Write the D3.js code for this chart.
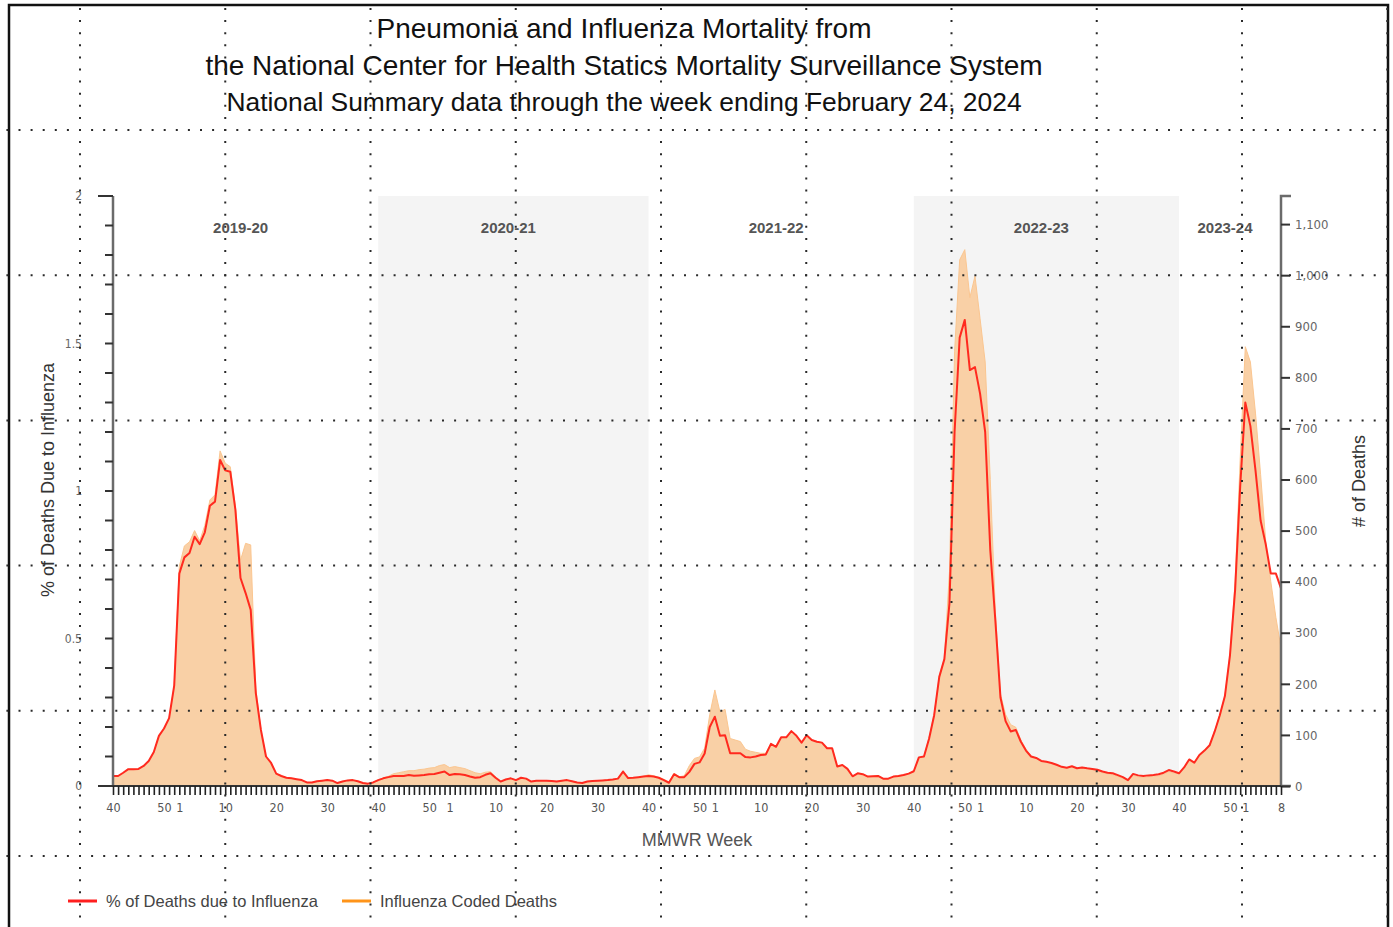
<!DOCTYPE html>
<html><head><meta charset="utf-8">
<script src="https://cdn.jsdelivr.net/npm/d3@7"></script>
<style>
body{margin:0;background:#fff;}
svg{display:block;font-family:"Liberation Sans",Arial,sans-serif;}
</style>
</head><body>
<svg id="chart" width="1393" height="927"></svg>
<script>
// ---------- DATA ----------
const titleLines = [
  "Pneumonia and Influenza Mortality from",
  "the National Center for Health Statics Mortality Surveillance System",
  "National Summary data through the week ending February 24, 2024"
];
const seasonNames = ["2019-20", "2020-21", "2021-22", "2022-23", "2023-24"];
const mmwrYears = [2019, 2020, 2021, 2022, 2023, 2024];
const weeksInYear = [52, 53, 52, 52, 52, 52];
const firstWeek = {year: 2019, week: 40};
const lastWeek = {year: 2024, week: 8};
const xLabelWeeks = [1, 10, 20, 30, 40, 50];
const leftTicks = [0, 0.5, 1, 1.5, 2];
const rightTicks = [0, 100, 200, 300, 400, 500, 600, 700, 800, 900, 1000, 1100];

// % of deaths due to influenza (weekly, per season)
const pct2019_20 = [0.034,0.034,0.045,0.057,0.057,0.058,0.068,0.085,0.115,0.17,
  0.195,0.23,0.34,0.72,0.775,0.79,0.845,0.82,0.86,0.95,
  0.964,1.105,1.07,1.065,0.936,0.705,0.654,0.597,0.315,0.19,
  0.1,0.078,0.042,0.034,0.028,0.026,0.023,0.02,0.012,0.012,
  0.016,0.018,0.02,0.018,0.01,0.015,0.019,0.02,0.016,0.01,
  0.008,0.012];
const pct2020_21 = [0.02,0.026,0.03,0.034,0.034,0.034,0.037,0.035,0.036,0.037,
  0.04,0.041,0.045,0.049,0.037,0.041,0.04,0.037,0.032,0.028,
  0.03,0.038,0.043,0.028,0.015,0.022,0.026,0.02,0.028,0.025,
  0.015,0.018,0.018,0.018,0.017,0.015,0.018,0.02,0.016,0.012,
  0.01,0.015,0.017,0.018,0.019,0.02,0.022,0.025,0.049,0.027,
  0.028,0.03,0.032];
const pct2021_22 = [0.034,0.032,0.028,0.02,0.011,0.04,0.03,0.03,0.048,0.075,
  0.08,0.11,0.2,0.235,0.17,0.172,0.111,0.111,0.111,0.098,
  0.097,0.1,0.105,0.107,0.143,0.133,0.165,0.165,0.186,0.17,
  0.147,0.172,0.156,0.15,0.147,0.128,0.128,0.066,0.071,0.058,
  0.033,0.043,0.04,0.032,0.033,0.034,0.025,0.025,0.032,0.034,
  0.037,0.042];
const pct2022_23 = [0.05,0.097,0.1,0.16,0.24,0.37,0.43,0.62,1.2,1.52,
  1.58,1.41,1.42,1.33,1.2,0.8,0.56,0.3,0.22,0.185,
  0.19,0.15,0.12,0.1,0.095,0.085,0.082,0.078,0.072,0.065,
  0.062,0.067,0.06,0.063,0.06,0.058,0.055,0.049,0.045,0.043,
  0.037,0.03,0.02,0.041,0.036,0.034,0.036,0.037,0.04,0.045,
  0.054,0.049];
const pct2023_24 = [0.043,0.063,0.09,0.079,0.105,0.12,0.138,0.185,0.24,0.305,
  0.444,0.664,1.015,1.3,1.22,1.07,0.9,0.82,0.72,0.72,
  0.67];

// Influenza coded deaths (weekly, per season)
const deaths2019_20 = [20,20,26,33,33,33,39,49,66,98,
  113,133,196,430,470,478,500,480,510,560,
  570,656,632,625,547,442,475,472,190,110,
  58,45,24,20,16,15,13,12,7,7,
  9,10,12,10,6,9,11,12,9,6,
  5,7];
const deaths2020_21 = [12,16,19,24,26,28,30,30,32,33,
  35,36,40,42,36,38,36,34,30,26,
  24,27,28,18,10,13,15,12,16,14,
  9,10,10,10,10,9,10,12,9,7,
  6,9,10,10,11,12,13,15,30,16,
  16,17,19];
const deaths2021_22 = [22,20,17,13,8,25,18,20,40,54,
  57,74,140,188,145,150,93,90,87,72,
  68,66,64,64,83,77,95,95,107,98,
  85,99,90,87,85,74,74,38,41,33,
  19,25,23,18,19,20,14,14,18,20,
  21,24];
const deaths2022_23 = [29,56,58,95,140,215,250,420,850,1030,
  1050,956,998,915,830,600,340,180,140,120,
  115,90,72,58,55,49,47,45,41,37,
  35,38,34,36,34,33,31,26,24,22,
  19,15,10,21,18,17,18,19,20,23,
  28,25];
const deaths2023_24 = [25,36,52,46,61,70,80,107,139,176,
  256,400,640,860,830,730,610,480,400,330,
  270];

// ---------- BUILD ----------
const pct = [].concat(pct2019_20, pct2020_21, pct2021_22, pct2022_23, pct2023_24);
const deaths = [].concat(deaths2019_20, deaths2020_21, deaths2021_22, deaths2022_23, deaths2023_24);

const weeks = [];
mmwrYears.forEach((yr, yi) => {
  for (let w = 1; w <= weeksInYear[yi]; w++) {
    if (yr === firstWeek.year && w < firstWeek.week) continue;
    if (yr === lastWeek.year && w > lastWeek.week) continue;
    weeks.push({key: yr + "-" + w, year: yr, week: w});
  }
});
const data = weeks.map((w, i) => ({...w, pct: pct[i], deaths: deaths[i]}));

const svg = d3.select("#chart");
const M = {left: 113, right: 1281, top: 196, bottom: 786};
const smallFont = "'DejaVu Sans Condensed','Liberation Sans',sans-serif";

const x = d3.scalePoint().domain(weeks.map(d => d.key)).range([M.left, M.right]);
const yL = d3.scaleLinear().domain([0, 2]).range([M.bottom, M.top]);
const yR = d3.scaleLinear().domain([0, 1155]).range([M.bottom, M.top]);

// frame
svg.append("rect").attr("x", 9).attr("y", 5).attr("width", 1379).attr("height", 940)
  .attr("fill", "none").attr("stroke", "#111").attr("stroke-width", 2.5);

// season bands
const seasonStarts = data.map((d, i) => d.week === 40 ? i : -1).filter(i => i >= 0);
seasonStarts.forEach((s, k) => {
  const e = k + 1 < seasonStarts.length ? seasonStarts[k + 1] : data.length - 1;
  const x0 = x(data[s].key), x1 = x(data[e].key);
  if (k % 2 === 1) {
    svg.append("rect").attr("x", x0).attr("y", M.top).attr("width", x1 - x0)
      .attr("height", M.bottom - M.top).attr("fill", "#f4f4f4");
  }
  svg.append("text").attr("x", (x0 + x1) / 2 - 5).attr("y", 233)
    .attr("text-anchor", "middle").attr("font-size", 15).attr("font-weight", "bold")
    .attr("fill", "#555").text(seasonNames[k]);
});

// area: deaths
const area = d3.area().x(d => x(d.key)).y0(yR(0)).y1(d => yR(d.deaths));
svg.append("path").datum(data).attr("d", area)
  .attr("fill", "#f9d0a6").attr("stroke", "#fbc690").attr("stroke-width", 1);

// line: pct
const line = d3.line().x(d => x(d.key)).y(d => yL(d.pct));
svg.append("path").datum(data).attr("d", line)
  .attr("fill", "none").attr("stroke", "#ff2a1f").attr("stroke-width", 2)
  .attr("stroke-linejoin", "round");

// left axis
const gL = svg.append("g");
gL.append("line").attr("x1", M.left).attr("x2", M.left).attr("y1", M.top).attr("y2", M.bottom)
  .attr("stroke", "#6b6b6b").attr("stroke-width", 2.5);
d3.range(0, 21).forEach(k => {
  const v = k / 10;
  const long = (k === 0 || k === 20);
  gL.append("line").attr("x1", long ? 98 : 105).attr("x2", M.left)
    .attr("y1", yL(v)).attr("y2", yL(v)).attr("stroke", "#333").attr("stroke-width", 2);
});
leftTicks.forEach(v => {
  gL.append("text").attr("x", 82).attr("y", yL(v)).attr("dy", "0.35em")
    .attr("text-anchor", "end").attr("font-size", 12).attr("fill", "#666")
    .attr("font-family", smallFont).text(d3.format("~g")(v));
});

// right axis
const axR = d3.axisRight(yR).tickValues(rightTicks).tickSize(9).tickPadding(5)
  .tickFormat(d3.format(","));
const gR = svg.append("g").attr("transform", `translate(${M.right},0)`).call(axR);
gR.select(".domain").attr("stroke", "#6b6b6b").attr("stroke-width", 2.5)
  .attr("d", `M10,${M.top}H0V${M.bottom}H10`);
gR.selectAll(".tick line").attr("stroke", "#333").attr("stroke-width", 2);
gR.selectAll(".tick text").attr("font-size", 13).attr("fill", "#666")
  .attr("font-family", smallFont);

// x axis
const lastKey = data[data.length - 1].key;
const axX = d3.axisBottom(x).tickSize(9).tickPadding(8)
  .tickFormat(k => {
    const d = data.find(e => e.key === k);
    return (xLabelWeeks.includes(d.week) || k === lastKey) ? d.week : "";
  });
const gX = svg.append("g").attr("transform", `translate(0,${M.bottom})`).call(axX);
gX.select(".domain").attr("stroke", "#333").attr("stroke-width", 2)
  .attr("d", `M98,0H${M.right}`);
gX.selectAll(".tick line").attr("stroke", "#222").attr("stroke-width", 1.6);
gX.selectAll(".tick text").attr("font-size", 12.5).attr("fill", "#555")
  .attr("font-family", smallFont);

// axis titles
svg.append("text").attr("x", 697).attr("y", 846).attr("text-anchor", "middle")
  .attr("font-size", 18).attr("fill", "#555").text("MMWR Week");
svg.append("text").attr("transform", "translate(54,480) rotate(-90)").attr("text-anchor", "middle")
  .attr("font-size", 18).attr("fill", "#333").text("% of Deaths Due to Influenza");
svg.append("text").attr("transform", "translate(1365,481) rotate(-90)").attr("text-anchor", "middle")
  .attr("font-size", 18).attr("fill", "#333").text("# of Deaths");

// title
const titleSizes = [28, 28, 26.4];
titleLines.forEach((t, i) => {
  svg.append("text").attr("x", 624).attr("y", 38 + i * 36.5).attr("text-anchor", "middle")
    .attr("font-size", titleSizes[i]).attr("fill", "#111").text(t);
});

// legend
const legend = [
  {label: "% of Deaths due to Influenza", color: "#ff1f1f", x: 68},
  {label: "Influenza Coded Deaths", color: "#ff9419", x: 342}
];
legend.forEach(l => {
  svg.append("line").attr("x1", l.x).attr("x2", l.x + 29).attr("y1", 901).attr("y2", 901)
    .attr("stroke", l.color).attr("stroke-width", 3);
  svg.append("text").attr("x", l.x + 38).attr("y", 907).attr("font-size", 16.5)
    .attr("fill", "#444").text(l.label);
});

// dotted overlay grid
const gridX = d3.range(10).map(k => 80 + 145.25 * k);
const gridY = d3.range(6).map(k => 130 + 145.2 * k);
const gG = svg.append("g").attr("stroke", "#2a2a2a").attr("stroke-width", 2)
  .attr("stroke-dasharray", "2 10.1");
gridX.forEach(gx => gG.append("line").attr("x1", gx).attr("x2", gx).attr("y1", 130 - 12.1 * 10 - 1).attr("y2", 927));
gridY.forEach(gy => gG.append("line").attr("x1", 80 - 12.1 * 6 - 1).attr("x2", 1393).attr("y1", gy).attr("y2", gy));
</script>
</body></html>
